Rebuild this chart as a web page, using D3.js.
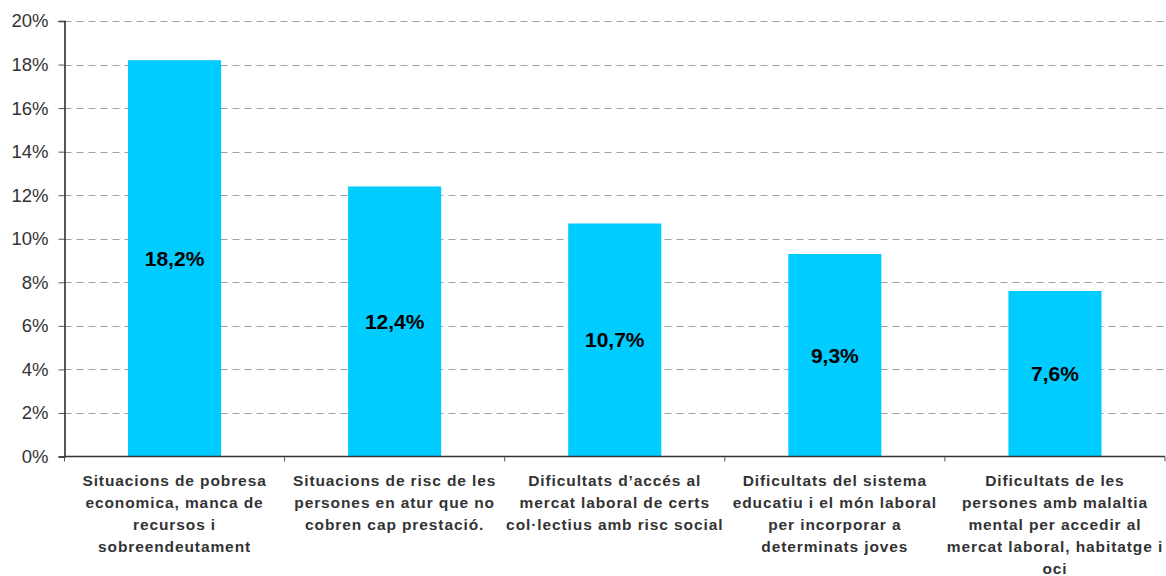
<!DOCTYPE html>
<html>
<head>
<meta charset="utf-8">
<script src="https://cdn.jsdelivr.net/npm/d3@7"></script>
<style>
  body { margin: 0; background: white; }
  text { font-family: 'Liberation Sans', Arial, sans-serif; }
</style>
</head>
<body>
<div id="chart"></div>
<script>
const categories = [
  ['Situacions de pobresa', 'economica, manca de', 'recursos i', 'sobreendeutament'],
  ['Situacions de risc de les', 'persones en atur que no', 'cobren cap prestació.'],
  ['Dificultats d\u2019accés al', 'mercat laboral de certs', 'col·lectius amb risc social'],
  ['Dificultats del sistema', 'educatiu i el món laboral', 'per incorporar a', 'determinats joves'],
  ['Dificultats de les', 'persones amb malaltia', 'mental per accedir al', 'mercat laboral, habitatge i', 'oci']
];
const values = [18.2, 12.4, 10.7, 9.3, 7.6];
const yTicks = [0, 2, 4, 6, 8, 10, 12, 14, 16, 18, 20];

const w = 1166;
const h = 576;
const plotLeft = 64.5;
const plotRight = 1165;
const plotTop = 21;
const plotBottom = 456.5;

const svg = d3
  .select('#chart')
  .append('svg')
  .attr('width', w)
  .attr('height', h);

const xScale = d3
  .scaleBand()
  .domain(d3.range(values.length))
  .range([plotLeft, plotRight])
  .paddingInner(0.577)
  .paddingOuter(0.2885);

const yScale = d3.scaleLinear().domain([0, 20]).range([plotBottom, plotTop]);

// gridlines
svg
  .selectAll('line.grid')
  .data(yTicks.filter((d) => d > 0))
  .enter()
  .append('line')
  .attr('class', 'grid')
  .attr('x1', plotLeft)
  .attr('x2', plotRight)
  .attr('y1', (d) => Math.round(yScale(d)) + 0.5)
  .attr('y2', (d) => Math.round(yScale(d)) + 0.5)
  .attr('stroke', '#a0a0a0')
  .attr('stroke-width', 1.2)
  .attr('stroke-dasharray', '7,5');

// bars
svg
  .selectAll('rect')
  .data(values)
  .enter()
  .append('rect')
  .attr('x', (d, i) => xScale(i))
  .attr('y', (d) => yScale(d))
  .attr('width', xScale.bandwidth())
  .attr('height', (d) => plotBottom - yScale(d))
  .attr('fill', '#00ccff');

// value labels
svg
  .selectAll('text.val')
  .data(values)
  .enter()
  .append('text')
  .attr('class', 'val')
  .attr('x', (d, i) => xScale(i) + xScale.bandwidth() / 2)
  .attr('y', (d) => (yScale(d) + plotBottom) / 2)
  .attr('dy', '0.35em')
  .attr('text-anchor', 'middle')
  .attr('font-size', 21)
  .attr('font-weight', 'bold')
  .attr('fill', '#000')
  .text((d) => d.toFixed(1).replace('.', ',') + '%');

// y axis
const yAxis = d3
  .axisLeft(yScale)
  .tickValues(yTicks)
  .tickSize(6)
  .tickPadding(10)
  .tickFormat((d) => d + '%');

const gy = svg
  .append('g')
  .attr('transform', 'translate(' + plotLeft + ',0)')
  .call(yAxis);
gy.select('.domain').attr('stroke', '#000').attr('stroke-width', 1.3);
gy.selectAll('.tick line').attr('stroke', '#555');
gy.selectAll('.tick text')
  .attr('font-size', 18.5)
  .attr('fill', '#333')
  .style('font-family', "'Liberation Sans', Arial, sans-serif");

// x axis with boundary ticks
const boundaries = d3.range(values.length + 1).map((i) => plotLeft + i * xScale.step());
svg
  .append('line')
  .attr('x1', plotLeft)
  .attr('x2', plotRight)
  .attr('y1', plotBottom)
  .attr('y2', plotBottom)
  .attr('stroke', '#333')
  .attr('stroke-width', 1.3);
svg
  .selectAll('line.xt')
  .data(boundaries)
  .enter()
  .append('line')
  .attr('class', 'xt')
  .attr('x1', (d) => d)
  .attr('x2', (d) => d)
  .attr('y1', plotBottom)
  .attr('y2', plotBottom + 5)
  .attr('stroke', '#555');

// category labels
const labels = svg
  .selectAll('text.cat')
  .data(categories)
  .enter()
  .append('text')
  .attr('class', 'cat')
  .attr('text-anchor', 'middle')
  .attr('font-size', 15.5)
  .attr('font-weight', 'bold')
  .attr('fill', '#333')
  .attr('letter-spacing', 0.9);

labels
  .selectAll('tspan')
  .data((d, i) => d.map((t) => ({ t: t, i: i })))
  .enter()
  .append('tspan')
  .attr('x', (d) => xScale(d.i) + xScale.bandwidth() / 2)
  .attr('y', (d, j) => 486 + j * 22)
  .text((d) => d.t);
</script>
</body>
</html>
